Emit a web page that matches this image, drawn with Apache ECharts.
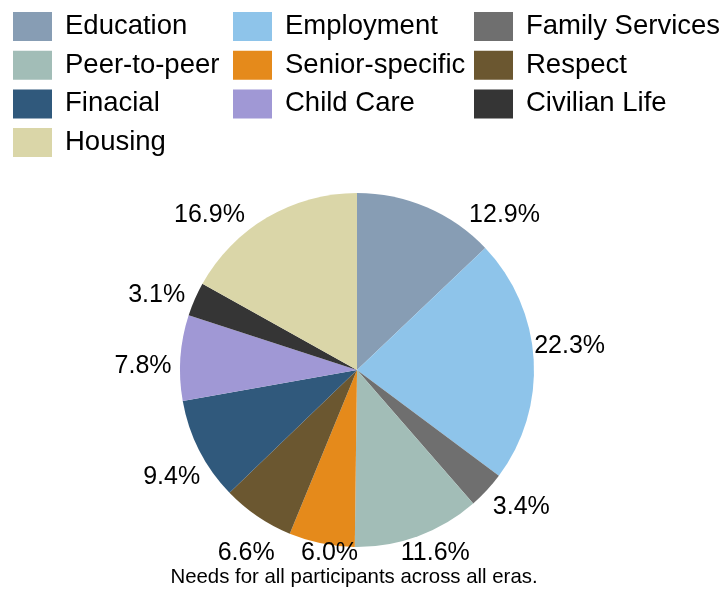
<!DOCTYPE html>
<html>
<head>
<meta charset="utf-8">
<script src="https://cdn.jsdelivr.net/npm/echarts@6/dist/echarts.min.js"></script>
<style>html,body{margin:0;padding:0;background:#fff}#c{width:724px;height:598px}</style>
</head>
<body>
<div id="c"></div>
<script>
const categories = ['Education','Employment','Family Services','Peer-to-peer','Senior-specific','Respect','Finacial','Child Care','Civilian Life','Housing'];
const values = [12.9, 22.3, 3.4, 11.6, 6.0, 6.6, 9.4, 7.8, 3.1, 16.9];
const colors = ['#879db4','#8ec4ea','#6f6f6f','#a2bdb7','#e58a1b','#6b5730','#30597c','#a098d5','#353535','#dad6a8'];
const legendCol1 = ['Education','Peer-to-peer','Finacial','Housing'];
const legendCol2 = ['Employment','Senior-specific','Child Care'];
const legendCol3 = ['Family Services','Respect','Civilian Life'];
const titleText = 'Needs for all participants across all eras.';

const FONT = 'Liberation Sans, Arial, sans-serif';
const CX = 357, CY = 370, R = 177;
const LABEL_R = 214, LABEL_TOP_DY = 155, LABEL_BOTTOM_DY = 183, LABEL_ROT = -3 * Math.PI / 180;
const chart = echarts.init(document.getElementById('c'));
function mkLegend(data, left) {
  return {
    data: data, orient: 'vertical', left: left, top: 7,
    itemWidth: 39, itemHeight: 29, itemGap: 9.7, icon: 'rect',
    selectedMode: false,
    textStyle: { fontSize: 27.5, color: '#000', fontFamily: FONT, padding: [0,0,0,8] }
  };
}
chart.setOption({
  animation: false,
  color: colors,
  title: {
    text: titleText, left: 349, textAlign: 'center', top: 562,
    textStyle: { fontSize: 20.4, fontWeight: 'normal', color: '#000', fontFamily: FONT }
  },
  legend: [mkLegend(legendCol1, 8), mkLegend(legendCol2, 228), mkLegend(legendCol3, 469)],
  series: [{
    type: 'pie',
    center: [CX, CY],
    radius: R,
    startAngle: 90,
    clockwise: true,
    data: categories.map((c, i) => ({ name: c, value: values[i] })),
    label: {
      show: true, position: 'outside',
      formatter: p => p.value.toFixed(1) + '%',
      fontSize: 25, color: '#000', fontFamily: FONT
    },
    labelLine: { show: true, length: 6, length2: 0, lineStyle: { opacity: 0, width: 0 } },
    labelLayout: function (params) {
      const pts = params.labelLinePoints;
      if (!pts || !pts.length) return {};
      let a = Math.atan2(pts[0][1] - CY, pts[0][0] - CX) + LABEL_ROT;
      let dx = Math.cos(a) * LABEL_R, dy = Math.sin(a) * LABEL_R;
      if (dy < -LABEL_TOP_DY) {
        dy = -LABEL_TOP_DY;
        const s = Math.sqrt(LABEL_R * LABEL_R - dy * dy);
        dx = dx >= 0 ? s : -s;
      } else if (dy > LABEL_BOTTOM_DY) {
        const k = LABEL_BOTTOM_DY / dy;
        dx *= k; dy *= k;
      }
      return { x: CX + dx, y: CY + dy, align: 'center', verticalAlign: 'middle', labelLinePoints: [] };
    },
    emphasis: { disabled: true }
  }]
});
</script>
</body>
</html>
